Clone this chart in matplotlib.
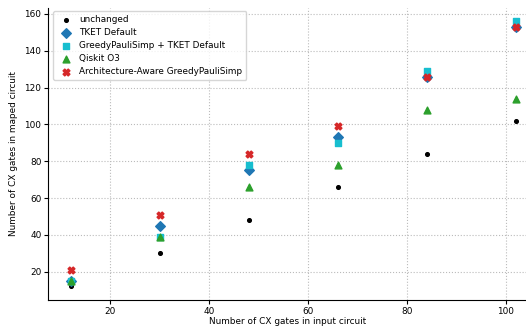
import matplotlib
matplotlib.use("Agg")
import matplotlib.pyplot as plt

x_input = [12, 30, 48, 66, 84, 102]
unchanged = [12, 30, 48, 66, 84, 102]
tket_default = [15, 45, 75, 93, 126, 153]
gps_tket = [15, 39, 78, 90, 129, 156]
qiskit_o3 = [15, 39, 66, 78, 108, 114]
arch_aware = [21, 51, 84, 99, 126, 153]

W, H = 526, 327
fig = plt.figure(figsize=(W/100, H/100), dpi=100)
left, right = 48.3/W, 1.0
bottom, top = 1 - 299.7/H, 1 - 8.1/H
ax = fig.add_axes([left, bottom, right-left, top-bottom])

ax.scatter(x_input, unchanged, marker='o', s=7, color='black', label='unchanged', zorder=3)
ax.scatter(x_input, tket_default, marker='D', s=24, color='#1f77b4', label='TKET Default', zorder=3)
ax.scatter(x_input, gps_tket, marker='s', s=24, color='#17becf', label='GreedyPauliSimp + TKET Default', zorder=3)
ax.scatter(x_input, qiskit_o3, marker='^', s=24, color='#2ca02c', label='Qiskit O3', zorder=3)
ax.scatter(x_input, arch_aware, marker='X', s=24, color='#d62728', label='Architecture-Aware GreedyPauliSimp', zorder=3)

ax.set_xlim(7.5, 104.1)
ax.set_ylim(4.8, 163.2)
ax.set_xticks([20, 40, 60, 80, 100])
ax.set_yticks([20, 40, 60, 80, 100, 120, 140, 160])
ax.tick_params(labelsize=6.4, length=3, pad=2)
ax.grid(True, linestyle=':', color='#bbbbbb', linewidth=0.8)
ax.set_axisbelow(True)
ax.spines['top'].set_visible(False)
ax.spines['right'].set_visible(False)
ax.set_xlabel('Number of CX gates in input circuit', fontsize=6.4, labelpad=1)
ax.set_ylabel('Number of CX gates in maped circuit', fontsize=6.4, labelpad=5)
ax.legend(loc='upper left', fontsize=6.4, bbox_to_anchor=(0.01, 0.99),
          borderaxespad=0.0, borderpad=0.45, labelspacing=0.45,
          handlelength=2.0, handletextpad=0.5)

fig.savefig('out.png', dpi=100)
